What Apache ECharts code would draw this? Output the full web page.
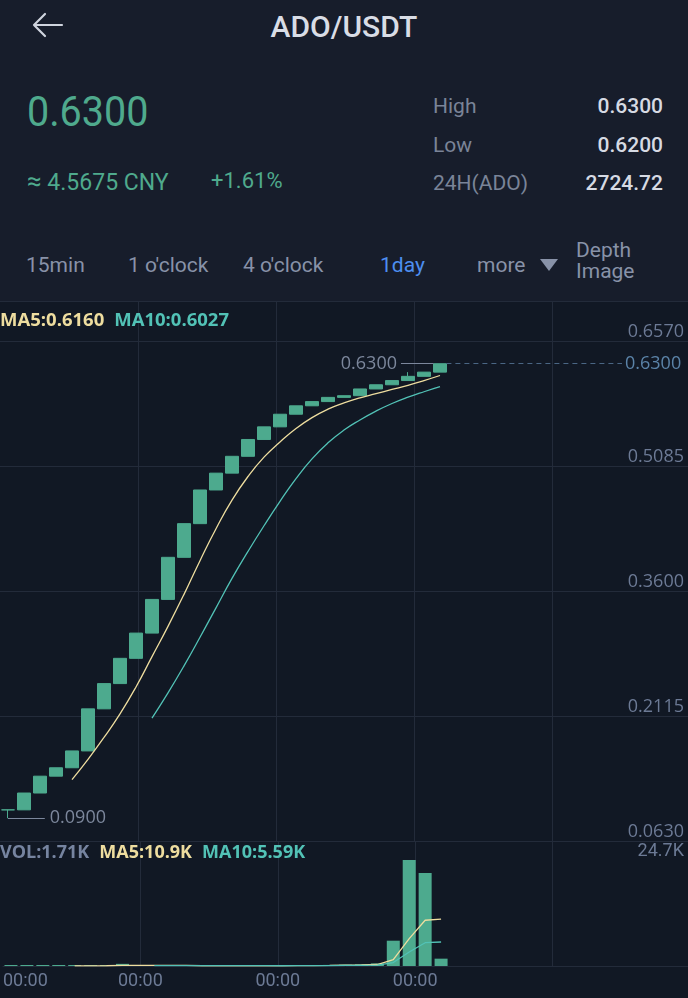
<!DOCTYPE html>
<html>
<head>
<meta charset="utf-8">
<script src="https://cdn.jsdelivr.net/npm/echarts@6/dist/echarts.min.js"></script>
<style>
html,body{margin:0;padding:0;}
body{width:688px;height:998px;position:relative;overflow:hidden;background:#111824;font-family:Roboto,"Open Sans",sans-serif;}
#head{position:absolute;left:0;top:0;width:688px;height:301px;background:#171d2b;}
.t{position:absolute;line-height:1;white-space:nowrap;transform:translateY(-50%);}
.r{right:25px;text-align:right;}
#chart{position:absolute;left:0;top:0;width:688px;height:998px;}
</style>
</head>
<body>
<div id="head">
  <svg style="position:absolute;left:30px;top:10px" width="36" height="32" viewBox="0 0 36 32">
    <path d="M4 15 L32 15 M15 4 L4 15 L15 26" fill="none" stroke="#cfd4de" stroke-width="2.2" stroke-linecap="round" stroke-linejoin="round"/>
  </svg>
  <div class="t" style="left:0;width:688px;text-align:center;top:26.5px;font-size:30px;font-weight:500;color:#d9dde6;">ADO/USDT</div>
  <div class="t" style="left:27px;top:112px;font-size:42px;color:#4faa8d;transform:translateY(-50%) scaleX(0.94);transform-origin:left center;">0.6300</div>
  <div class="t" style="left:27px;top:180.5px;font-size:23px;color:#4faa8d;"><span style="font-size:26px;">≈</span> 4.5675 CNY</div>
  <div class="t" style="left:211px;top:180.5px;font-size:22px;color:#4faa8d;">+1.61%</div>
  <div class="t" style="left:433px;top:105.5px;font-size:21px;color:#7a8498;">High</div>
  <div class="t" style="left:433px;top:144.5px;font-size:21px;color:#7a8498;">Low</div>
  <div class="t" style="left:433px;top:183px;font-size:21px;color:#7a8498;">24H(ADO)</div>
  <div class="t r" style="top:105.5px;font-size:21px;font-weight:500;color:#d6dae3;">0.6300</div>
  <div class="t r" style="top:144.5px;font-size:21px;font-weight:500;color:#d6dae3;">0.6200</div>
  <div class="t r" style="top:183px;font-size:21px;font-weight:500;color:#d6dae3;">2724.72</div>
  <div class="t" style="left:26px;top:265px;font-size:21px;color:#8892a8;">15min</div>
  <div class="t" style="left:128px;top:265px;font-size:21px;color:#8892a8;">1 o'clock</div>
  <div class="t" style="left:243px;top:265px;font-size:21px;color:#8892a8;">4 o'clock</div>
  <div class="t" style="left:380px;top:265px;font-size:21px;color:#4d8ef0;">1day</div>
  <div class="t" style="left:477px;top:265px;font-size:21px;color:#8892a8;">more</div>
  <svg style="position:absolute;left:539px;top:258px" width="20" height="14" viewBox="0 0 20 14">
    <path d="M1 1 L19 1 L10 13 Z" fill="#8892a8"/>
  </svg>
  <div class="t" style="left:576px;top:250px;font-size:21px;color:#8892a8;">Depth</div>
  <div class="t" style="left:576px;top:271px;font-size:21px;color:#8892a8;">Image</div>
</div>
<div id="chart"></div>
<script>
// ---- data (28 daily candles) ----
const opens  = [0.10,0.10,0.12,0.14,0.15,0.17,0.22,0.25,0.28,0.31,0.35,0.40,0.44,0.48,0.50,0.52,0.54,0.555,0.57,0.58,0.585,0.59,0.592,0.60,0.605,0.61,0.615,0.62];
const closes = [0.10,0.12,0.14,0.15,0.17,0.22,0.25,0.28,0.31,0.35,0.40,0.44,0.48,0.50,0.52,0.54,0.555,0.57,0.58,0.585,0.59,0.592,0.60,0.605,0.61,0.615,0.62,0.63];
const lows   = [0.09,0.10,0.12,0.14,0.15,0.17,0.22,0.25,0.28,0.31,0.35,0.40,0.44,0.48,0.50,0.52,0.54,0.555,0.57,0.58,0.585,0.59,0.592,0.60,0.605,0.61,0.615,0.62];
const highs  = [0.10,0.12,0.14,0.15,0.17,0.22,0.25,0.28,0.31,0.35,0.40,0.44,0.48,0.50,0.52,0.54,0.555,0.57,0.58,0.585,0.59,0.592,0.60,0.605,0.61,0.62,0.62,0.63];
const ma5  = [null,null,null,null,0.136,0.160,0.186,0.214,0.246,0.282,0.318,0.356,0.396,0.434,0.468,0.496,0.519,0.537,0.553,0.566,0.576,0.5834,0.5894,0.5944,0.5994,0.6044,0.610,0.616];
const ma10 = [null,null,null,null,null,null,null,null,null,0.209,0.239,0.271,0.305,0.340,0.375,0.407,0.4375,0.4665,0.4935,0.517,0.536,0.5512,0.5632,0.5737,0.5827,0.5902,0.5967,0.6027];
// volume in thousands
const vols = [0.05,0.05,0.05,0.05,0.05,0.05,0.1,0.5,0.1,0.05,0.05,0.05,0.05,0.05,0.05,0.05,0.05,0.1,0.15,0.2,0.25,0.3,0.39,0.6,5.9,24.7,21.7,1.71];
const volMa5  = [null,null,null,null,0.05,0.05,0.06,0.15,0.16,0.16,0.16,0.15,0.06,0.05,0.05,0.05,0.05,0.06,0.08,0.11,0.15,0.2,0.258,0.348,1.488,6.378,10.658,10.922];
const volMa10 = [null,null,null,null,null,null,null,null,null,0.105,0.105,0.105,0.105,0.105,0.105,0.105,0.1,0.06,0.065,0.08,0.1,0.125,0.159,0.214,0.799,3.264,5.429,5.59];
const xTickLabels = ['00:00','00:00','00:00','00:00','',''];
const highValue = 0.63, lowValue = 0.09, lastPrice = 0.63, volMaxLabel = 24.7;

// ---- build series data ----
const last = closes.length - 1;
const candleData = opens.map((o, i) => [i, o, closes[i], lows[i], highs[i]]);
const pair = arr => arr.map((v, i) => [i, v]).filter(p => p[1] !== null);
const lowIdx = lows.indexOf(Math.min(...lows));
const highIdx = highs.indexOf(Math.max(...highs));

const GRID = '#232b3a';
const NONE = 'rgba(0,0,0,0)';
const AXIS_TXT = '#6c7a95';
const GREEN = '#4daa8e';
const YEL = '#eedd9f';
const CYA = '#52c2b6';

const chart = echarts.init(document.getElementById('chart'), null, {renderer: 'canvas'});
const xCommon = {
  type: 'value', min: -0.5, max: 42.5, interval: 8.625,
  axisTick: {show: false},
  splitLine: {show: true, lineStyle: {color: [NONE, GRID, GRID, GRID, GRID, NONE], width: 1}}
};
chart.setOption({
  backgroundColor: 'transparent',
  animation: false,
  title: [
    {left: 0, top: 310, padding: 0,
     text: `{a|MA5:${ma5[last].toFixed(4)}}  {b|MA10:${ma10[last].toFixed(4)}}`,
     textStyle: {rich: {
       a: {color: YEL, fontSize: 18.5, fontFamily: 'Open Sans', lineHeight: 22},
       b: {color: CYA, fontSize: 18.5, fontFamily: 'Open Sans', lineHeight: 22}}}},
    {left: 0, top: 842, padding: 0,
     text: `{g|VOL:${vols[last].toFixed(2)}K}  {a|MA5:${volMa5[last].toFixed(1)}K}  {b|MA10:${volMa10[last].toFixed(2)}K}`,
     textStyle: {rich: {
       g: {color: '#7684a0', fontSize: 18, fontFamily: 'Open Sans', lineHeight: 22},
       a: {color: YEL, fontSize: 18, fontFamily: 'Open Sans', lineHeight: 22},
       b: {color: CYA, fontSize: 18, fontFamily: 'Open Sans', lineHeight: 22}}}}
  ],
  grid: [
    {left: 0, right: 0, top: 301, height: 540},
    {left: 0, right: 0, top: 841, height: 125}
  ],
  xAxis: [
    Object.assign({}, xCommon, {gridIndex: 0, axisLine: {show: false}, axisLabel: {show: false}}),
    Object.assign({}, xCommon, {gridIndex: 1,
      axisLine: {show: true, lineStyle: {color: GRID}},
      axisLabel: {show: true, color: AXIS_TXT, fontSize: 18, fontFamily: 'Roboto', margin: 6,
        alignMinLabel: 'left', showMaxLabel: false,
        formatter: (v, idx) => xTickLabels[idx] || ''}})
  ],
  yAxis: [
    {type: 'value', gridIndex: 0, position: 'right', min: 0.063, max: 0.7045, interval: 0.1485,
     axisLine: {show: false}, axisTick: {show: false},
     splitLine: {show: true, lineStyle: {color: GRID}},
     axisLabel: {inside: true, margin: 4, verticalAlign: 'bottom', color: AXIS_TXT, fontSize: 18, fontFamily: 'Open Sans',
       formatter: v => (v > 0.7 ? '' : v.toFixed(4))}},
    {type: 'value', gridIndex: 1, position: 'right', min: 0, max: 29.13, interval: volMaxLabel,
     axisLine: {show: false}, axisTick: {show: false}, splitLine: {show: false},
     axisLabel: {inside: true, margin: 4, verticalAlign: 'bottom', color: AXIS_TXT, fontSize: 18, fontFamily: 'Roboto',
       formatter: v => (Math.abs(v - volMaxLabel) < 0.01 ? volMaxLabel.toFixed(1) + 'K' : '')}}
  ],
  series: [
    {type: 'candlestick', xAxisIndex: 0, yAxisIndex: 0, barWidth: 13,
     data: candleData,
     itemStyle: {color: GREEN, color0: '#e0534f', borderColor: GREEN, borderColor0: '#e0534f', borderWidth: 1},
     markLine: {
       silent: true, symbol: ['none', 'none'], animation: false,
       data: [
         [{coord: [highIdx - 0.4, highValue], lineStyle: {color: '#7c879c', type: 'solid', width: 1},
           label: {show: true, position: 'end', distance: 4, formatter: highValue.toFixed(4), color: '#7c879c', fontSize: 18, fontFamily: 'Open Sans'}},
          {coord: [24.56, highValue]}],
         [{coord: [lowIdx, lowValue], lineStyle: {color: '#7c879c', type: 'solid', width: 1},
           label: {show: true, position: 'end', distance: 5, formatter: lowValue.toFixed(4), color: '#7c879c', fontSize: 18, fontFamily: 'Open Sans'}},
          {coord: [2.3, lowValue]}],
         [{coord: [last + 0.4, lastPrice], lineStyle: {color: '#4a6684', type: [5, 4], width: 1},
           label: {show: true, position: 'end', distance: 3, formatter: lastPrice.toFixed(4), color: '#5b83a8', fontSize: 18, fontFamily: 'Open Sans'}},
          {coord: [38.375, lastPrice]}]
       ]
     }},
    {type: 'line', name: 'MA5', xAxisIndex: 0, yAxisIndex: 0, data: pair(ma5), smooth: true, showSymbol: false,
     lineStyle: {color: YEL, width: 1.3}},
    {type: 'line', name: 'MA10', xAxisIndex: 0, yAxisIndex: 0, data: pair(ma10), smooth: true, showSymbol: false,
     lineStyle: {color: CYA, width: 1.3}},
    {type: 'bar', xAxisIndex: 1, yAxisIndex: 1, barWidth: 13, barMinHeight: 1,
     data: pair(vols), itemStyle: {color: GREEN}},
    {type: 'line', xAxisIndex: 1, yAxisIndex: 1, data: pair(volMa5), showSymbol: false,
     lineStyle: {color: YEL, width: 1.3}},
    {type: 'line', xAxisIndex: 1, yAxisIndex: 1, data: pair(volMa10), showSymbol: false,
     lineStyle: {color: CYA, width: 1.3}}
  ]
});
</script>
</body>
</html>
